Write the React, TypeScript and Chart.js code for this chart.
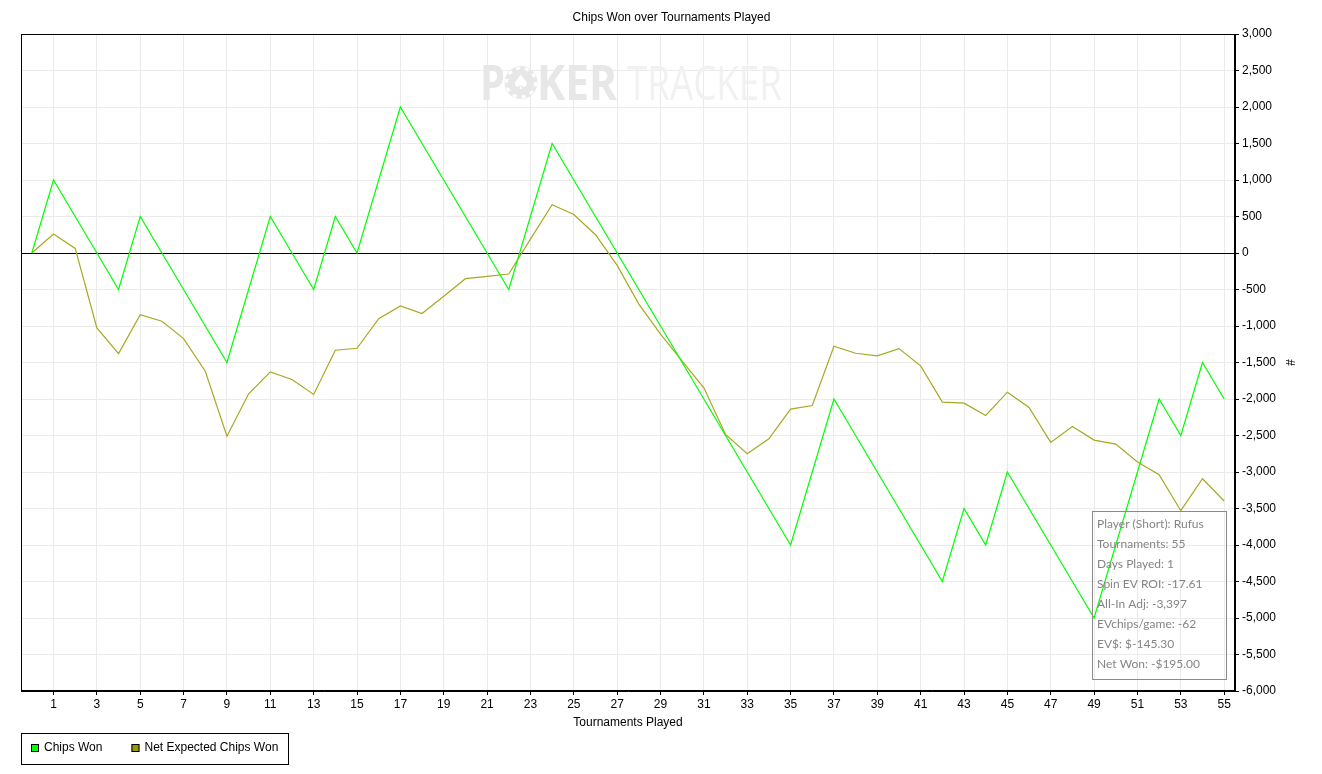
import React, { useEffect, useRef } from "react";
import { Chart, registerables } from "chart.js";

Chart.register(...registerables);

// ---------- data ----------
const tournaments = [
  0, 1, 2, 3, 4, 5, 6, 7, 8, 9, 10, 11, 12, 13, 14, 15, 16, 17, 18, 19, 20, 21, 22, 23, 24, 25, 26, 27,
  28, 29, 30, 31, 32, 33, 34, 35, 36, 37, 38, 39, 40, 41, 42, 43, 44, 45, 46, 47, 48, 49, 50, 51, 52, 53,
  54, 55,
];

const chipsWon = [
  0, 1000, 500, 0, -500, 500, 0, -500, -1000, -1500, -500, 500, 0, -500, 500, 0, 1000, 2000, 1500, 1000,
  500, 0, -500, 500, 1500, 1000, 500, 0, -500, -1000, -1500, -2000, -2500, -3000, -3500, -4000, -3000,
  -2000, -2500, -3000, -3500, -4000, -4500, -3500, -4000, -3000, -3500, -4000, -4500, -5000, -4000, -3000,
  -2000, -2500, -1500, -2000,
];

const netExpectedChipsWon = [
  0, 260, 63, -1026, -1378, -844, -935, -1173, -1619, -2509, -1929, -1628, -1733, -1938, -1332, -1305,
  -899, -725, -830, -593, -352, -320, -288, 190, 661, 528, 250, -169, -700, -1110, -1480, -1847, -2486,
  -2750, -2545, -2139, -2089, -1277, -1373, -1410, -1309, -1546, -2043, -2057, -2226, -1907, -2116, -2595,
  -2376, -2563, -2618, -2864, -3037, -3530, -3092, -3397,
];

const xTickValues = [
  1, 3, 5, 7, 9, 11, 13, 15, 17, 19, 21, 23, 25, 27, 29, 31, 33, 35, 37, 39, 41, 43, 45, 47, 49, 51, 53, 55,
];

const seriesLabels = ["Chips Won", "Net Expected Chips Won"];
const seriesColors = ["#00ff00", "#a8a823"];
const legendSwatchColors = ["#00ff00", "#999900"];

const chartTitle = "Chips Won over Tournaments Played";
const xAxisTitle = "Tournaments Played";
const yAxisTitle = "#";

const statsLines = [
  "Player (Short): Rufus",
  "Tournaments: 55",
  "Days Played: 1",
  "Spin EV ROI: -17.61",
  "All-In Adj: -3,397",
  "EVchips/game: -62",
  "EV$: $-145.30",
  "Net Won: -$195.00",
];

const FONT = "'Liberation Sans', Arial, sans-serif";
const STATS_FONT = "Lato, 'Open Sans', sans-serif";
const MARK_FONT = "'Open Sans', 'Noto Sans', sans-serif";

function fitText(ctx: CanvasRenderingContext2D, text: string, x0: number, x1: number, baseline: number) {
  const w = ctx.measureText(text).width;
  ctx.save();
  ctx.translate(x0, baseline);
  ctx.scale((x1 - x0) / w, 1);
  ctx.fillText(text, 0, 0);
  ctx.restore();
}

const watermarkPlugin = {
  id: "watermark",
  beforeDatasetsDraw(chart: any) {
    const ctx: CanvasRenderingContext2D = chart.ctx;
    ctx.save();
    ctx.textAlign = "left";
    ctx.textBaseline = "alphabetic";
    const base = 100;
    ctx.fillStyle = "#e7e7e7";
    ctx.font = `bold 48px ${MARK_FONT}`;
    fitText(ctx, "P", 480, 505, base);
    fitText(ctx, "KER", 537, 617, base);
    // chip "O"
    const cx = 521, cy = 82.5, r = 16.5;
    ctx.beginPath();
    ctx.arc(cx, cy, r, 0, Math.PI * 2);
    ctx.fill();
    ctx.strokeStyle = "#ffffff";
    ctx.lineWidth = 3;
    ctx.setLineDash([4, 5]);
    ctx.beginPath();
    ctx.arc(cx, cy, r - 2, 0, Math.PI * 2);
    ctx.stroke();
    ctx.setLineDash([]);
    ctx.fillStyle = "#ffffff";
    ctx.font = `20px 'DejaVu Sans', sans-serif`;
    ctx.textAlign = "center";
    ctx.textBaseline = "middle";
    ctx.fillText("\u2660", cx, cy + 1);
    ctx.textAlign = "left";
    ctx.textBaseline = "alphabetic";
    ctx.fillStyle = "#f1f1f1";
    ctx.font = `48px ${MARK_FONT}`;
    fitText(ctx, "TRACKER", 627, 782, base);
    ctx.restore();
  },
};

const overlayPlugin = {
  id: "overlay",
  afterDraw(chart: any) {
    const ctx: CanvasRenderingContext2D = chart.ctx;
    const a = chart.chartArea;
    ctx.save();
    // frame around plot
    ctx.strokeStyle = "#000";
    ctx.lineWidth = 1;
    const L = Math.round(a.left) + 0.5;
    const T = Math.round(a.top) + 0.5;
    const R = Math.round(a.right) - 0.5;
    const B = Math.round(a.bottom) - 0.5;
    ctx.strokeRect(L, T, R - L, B - T);

    // stats box
    const bw = 134, bh = 168;
    const bx = Math.round(a.right) - 9 - bw + 0.5;
    const by = Math.round(a.bottom) - 12 - bh + 0.5;
    ctx.strokeStyle = "#8a8a8a";
    ctx.strokeRect(bx, by, bw, bh);
    ctx.fillStyle = "#858585";
    ctx.font = `12px ${STATS_FONT}`;
    ctx.textAlign = "left";
    ctx.textBaseline = "middle";
    statsLines.forEach((line, i) => {
      ctx.fillText(line, bx + 4.5, by + 13 + i * 20);
    });

    // legend
    ctx.font = `12px ${FONT}`;
    ctx.textBaseline = "middle";
    const ly = 748;
    let x = 31;
    const ends: number[] = [];
    chart.data.datasets.forEach((ds: any, i: number) => {
      ctx.fillStyle = legendSwatchColors[i];
      ctx.fillRect(x, ly - 4, 8, 8);
      ctx.strokeStyle = "#000";
      ctx.strokeRect(x + 0.5, ly - 4 + 0.5, 7, 7);
      ctx.fillStyle = "#000";
      ctx.fillText(ds.label, x + 13, ly);
      const end = x + 13 + ctx.measureText(ds.label).width;
      ends.push(end);
      x = end + 29;
    });
    const legendRight = Math.round(ends[ends.length - 1] + 10);
    ctx.strokeStyle = "#000";
    ctx.strokeRect(21.5, 733.5, legendRight - 21, 31);
    ctx.restore();
  },
};

export default function App() {
  const ref = useRef<HTMLCanvasElement>(null);

  useEffect(() => {
    document.body.style.margin = "0";
    Chart.defaults.font.family = FONT;
    Chart.defaults.font.size = 12;
    Chart.defaults.color = "#000";

    const chart = new Chart(ref.current as HTMLCanvasElement, {
      type: "line",
      data: {
        datasets: [
          {
            label: seriesLabels[0],
            data: tournaments.map((t, i) => ({ x: t, y: chipsWon[i] })),
            borderColor: seriesColors[0],
            backgroundColor: legendSwatchColors[0],
            borderWidth: 1.2,
            pointRadius: 0,
            tension: 0,
            order: 1,
          },
          {
            label: seriesLabels[1],
            data: tournaments.map((t, i) => ({ x: t, y: netExpectedChipsWon[i] })),
            borderColor: seriesColors[1],
            backgroundColor: legendSwatchColors[1],
            borderWidth: 1.2,
            pointRadius: 0,
            tension: 0,
            order: 2,
          },
        ],
      },
      options: {
        responsive: false,
        animation: false,
        devicePixelRatio: 1,
        layout: { padding: { left: 21, right: 0, top: 0, bottom: 44 } },
        plugins: {
          legend: { display: false },
          tooltip: { enabled: false },
          title: {
            display: true,
            text: chartTitle,
            color: "#000",
            font: { size: 12, weight: "normal" as any, family: FONT },
            padding: { top: 10, bottom: 9.6 },
          },
        },
        scales: {
          x: {
            type: "linear",
            min: -0.5,
            max: 55.5,
            afterBuildTicks: (s: any) => {
              s.ticks = xTickValues.map((v) => ({ value: v }));
            },
            afterFit: (s: any) => {
              s.height = 39;
            },
            ticks: {
              autoSkip: false,
              maxRotation: 0,
              padding: 2,
              color: "#000",
              callback: (v: any) => String(v),
            },
            grid: { color: "#ebebeb", tickLength: 4, tickColor: "#000" },
            border: { color: "#000" },
            title: { display: true, text: xAxisTitle, color: "#000", padding: { top: 0, bottom: 0 } },
          },
          y: {
            type: "linear",
            position: "right",
            min: -6000,
            max: 3000,
            afterFit: (s: any) => {
              s.width = 87;
            },
            ticks: {
              stepSize: 500,
              padding: 3,
              color: "#000",
              callback: (v: any) => Number(v).toLocaleString("en-US"),
            },
            grid: {
              color: (c: any) => (c.tick && c.tick.value === 0 ? "#000" : "#ebebeb"),
              tickLength: 4,
              tickColor: "#000",
            },
            border: { color: "#000" },
            title: { display: true, text: yAxisTitle, color: "#000", padding: { top: 25, bottom: 0 } },
          },
        },
      },
      plugins: [watermarkPlugin, overlayPlugin],
    } as any);

    return () => chart.destroy();
  }, []);

  return (
    <div style={{ width: 1322, height: 774, position: "relative", background: "#fff" }}>
      <canvas ref={ref} width={1322} height={774} style={{ display: "block", width: 1322, height: 774 }} />
    </div>
  );
}
